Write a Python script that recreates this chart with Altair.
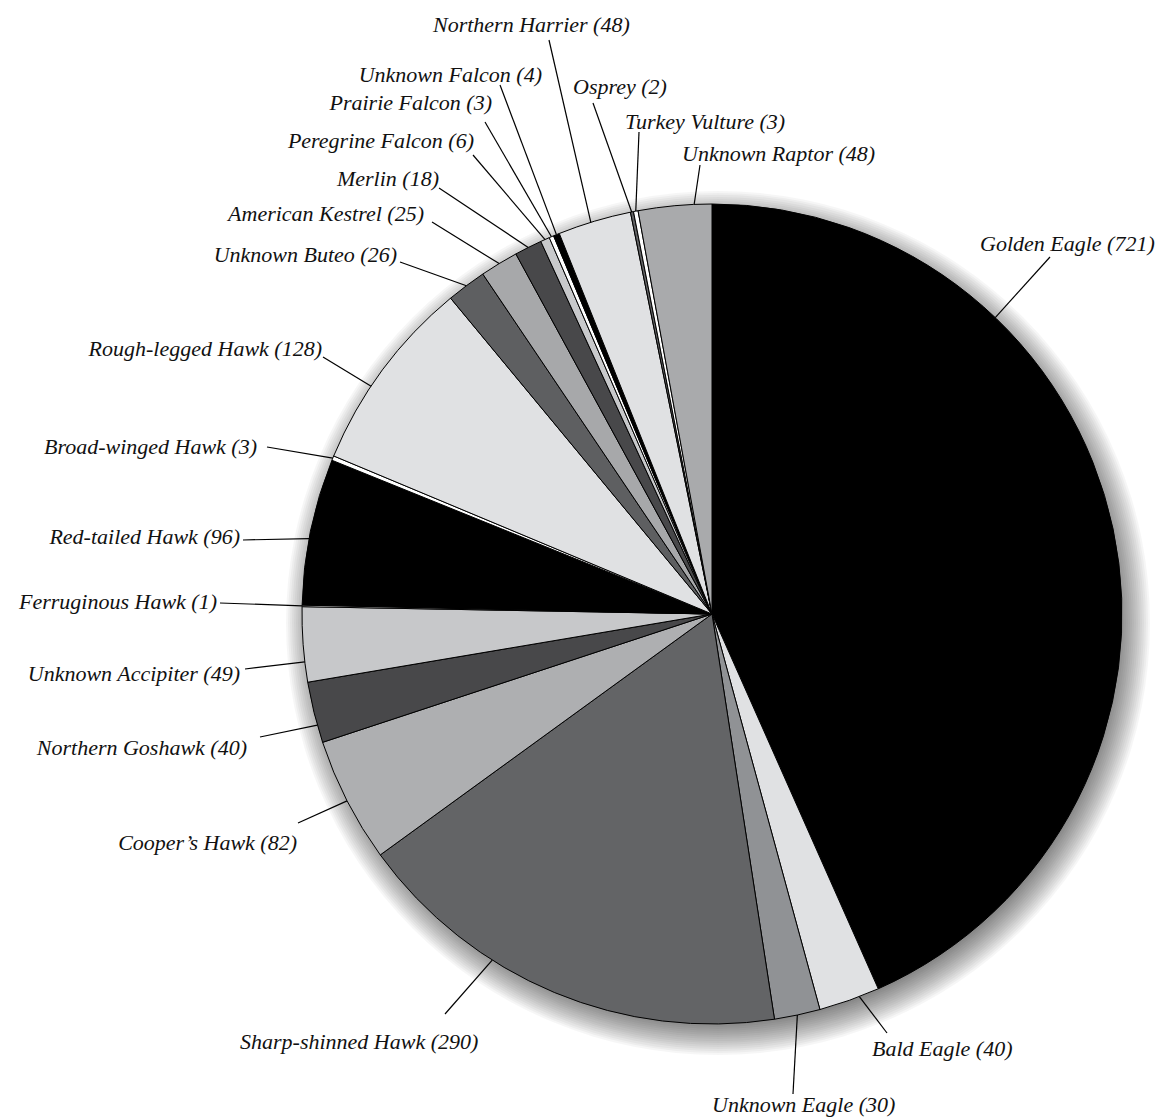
import math
import altair as alt
import pandas as pd

# ---------------- data ----------------
names = [
    "Golden Eagle", "Bald Eagle", "Unknown Eagle", "Sharp-shinned Hawk",
    "Cooper's Hawk", "Northern Goshawk", "Unknown Accipiter", "Ferruginous Hawk",
    "Red-tailed Hawk", "Broad-winged Hawk", "Rough-legged Hawk", "Unknown Buteo",
    "American Kestrel", "Merlin", "Peregrine Falcon", "Prairie Falcon",
    "Unknown Falcon", "Northern Harrier", "Osprey", "Turkey Vulture", "Unknown Raptor",
]
counts = [721, 40, 30, 290, 82, 40, 49, 1, 96, 3, 128, 26, 25, 18, 6, 3, 4, 48, 2, 3, 48]
display_names = [
    "Golden Eagle", "Bald Eagle", "Unknown Eagle", "Sharp-shinned Hawk",
    "Cooper\u2019s Hawk", "Northern Goshawk", "Unknown Accipiter", "Ferruginous Hawk",
    "Red-tailed Hawk", "Broad-winged Hawk", "Rough-legged Hawk", "Unknown Buteo",
    "American Kestrel", "Merlin", "Peregrine Falcon", "Prairie Falcon",
    "Unknown Falcon", "Northern Harrier", "Osprey", "Turkey Vulture", "Unknown Raptor",
]

# ---------------- styles ----------------
colors = [
    "#000000", "#e0e1e3", "#909295", "#636466",
    "#aeafb1", "#48484a", "#c7c8ca", "#ffffff",
    "#000000", "#ffffff", "#e0e1e3", "#5e5f61",
    "#a7a8aa", "#48484a", "#c8c9cb", "#ffffff",
    "#000000", "#e0e1e3", "#636466", "#ffffff", "#a9aaac",
]

# ---------------- layout ----------------
W, H = 1148, 1109
CX, CY, R = 704, 606, 410
FONT = "Liberation Serif"
FONT_SIZE = 22

# where along each slice the leader line attaches (fraction of the slice)
leader_frac = [0.28, 0.33, 0.5, 0.656, 0.5, 0.29, 0.27, 0.5, 0.45, 0.5, 0.40,
               0.5, 0.5, 0.5, 0.5, 0.5, 0.5, 0.45, 0.4, 0.5, 0.76]
# outer end of the leader, offset from pie centre (px)
leader_end = [(338, -357), (175, 419), (81, 480), (-267, 400), (-414, 209),
              (-452, 123), (-467, 55), (-492, -11), (-469, -74), (-445, -167),
              (-389, -257), (-312, -352), (-280, -392), (-273, -426), (-239, -459),
              (-227, -492), (-212, -529), (-163, -574), (-119, -511), (-73, -482),
              (-12, -449)]
# text anchor (baseline), offset from pie centre (px)
label_anchor = [(268, -363), (160, 442), (0, 498), (-472, 435), (-415, 236),
                (-465, 141), (-472, 67), (-495, -5), (-472, -70), (-455, -160),
                (-390, -258), (-315, -352), (-288, -393), (-273, -428), (-238, -466),
                (-220, -504), (-170, -532), (-279, -582), (-139, -520), (-87, -485),
                (-30, -453)]
label_align = ["left", "left", "left", "left", "right",
               "right", "right", "right", "right", "right",
               "right", "right", "right", "right", "right",
               "right", "right", "left", "left", "left", "left"]

# ---------------- build table ----------------
total = sum(counts)
rows = []
cum = 0
for i, (n, c) in enumerate(zip(names, counts)):
    a0 = cum / total * 2 * math.pi
    a1 = (cum + c) / total * 2 * math.pi
    a = a0 + leader_frac[i] * (a1 - a0)
    ex, ey = leader_end[i]
    tx, ty = label_anchor[i]
    rows.append(dict(
        name=n, count=c, idx=i,
        label=f"{display_names[i]} ({c})",
        lx0=CX + R * math.sin(a), ly0=CY - R * math.cos(a),
        lx1=CX + ex, ly1=CY + ey,
        tx=CX + tx, ty=CY + ty,
        align=label_align[i],
    ))
    cum += c
df = pd.DataFrame(rows)

xs = alt.Scale(domain=[0, W], nice=False, zero=False)
ys = alt.Scale(domain=[0, H], nice=False, zero=False, reverse=True)

# soft drop shadow: stacked translucent discs
shadow_radii = list(range(R - 12, R + 23, 2))
sh = pd.DataFrame({"s": [(2 * r) ** 2 for r in shadow_radii]})
shadow = alt.Chart(sh).mark_circle(color="black", opacity=0.035).encode(
    x=alt.value(CX + 6), y=alt.value(CY + 9),
    size=alt.Size("s:Q", scale=None, legend=None),
)

pie = alt.Chart(df).mark_arc(radius=R, stroke="black", strokeWidth=1).encode(
    theta=alt.Theta("count:Q", stack=True),
    order=alt.Order("idx:Q", sort="ascending"),
    color=alt.Color("name:N", scale=alt.Scale(domain=names, range=colors), legend=None),
    x=alt.value(CX), y=alt.value(CY),
)

leaders = alt.Chart(df).mark_rule(color="black", strokeWidth=1.2).encode(
    x=alt.X("lx0:Q", scale=xs, axis=None),
    y=alt.Y("ly0:Q", scale=ys, axis=None),
    x2="lx1:Q", y2="ly1:Q",
)

def text_layer(al):
    return alt.Chart(df).transform_filter(
        alt.datum.align == al
    ).mark_text(
        align=al, baseline="alphabetic", font=FONT, fontSize=FONT_SIZE,
        fontStyle="italic", color="#111111",
    ).encode(
        x=alt.X("tx:Q", scale=xs, axis=None),
        y=alt.Y("ty:Q", scale=ys, axis=None),
        text="label:N",
    )

chart = alt.layer(
    shadow, pie, leaders, text_layer("left"), text_layer("right")
).properties(
    width=W, height=H, padding=0,
    autosize=alt.AutoSizeParams(type="none"),
    background="white",
).configure_view(stroke=None)

chart.save("out.html", embed_options={"renderer": "svg", "actions": False})
